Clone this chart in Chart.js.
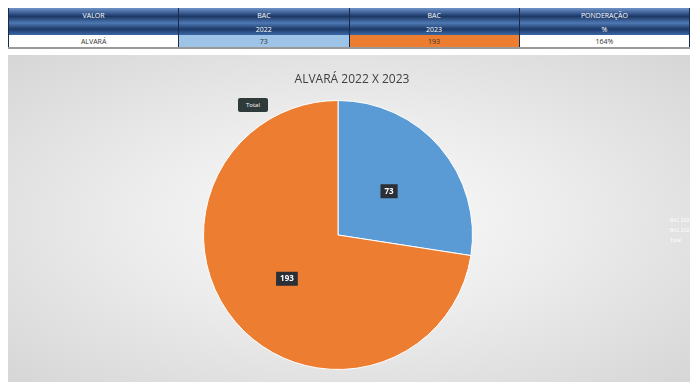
<!DOCTYPE html>
<html>
<head>
<meta charset="utf-8">
<script src="https://cdn.jsdelivr.net/npm/chart.js@4.4.0/dist/chart.umd.min.js"></script>
<style>
  body { margin: 0; width: 693px; height: 382px; background: #fff; overflow: hidden; font-family: 'Open Sans', sans-serif; }
  .tabela { position: absolute; left: 8px; top: 8px; width: 682px; border-collapse: collapse; table-layout: fixed; }
  .tabela td { font-size: 7px; text-align: center; padding: 0; color: #fff; border-left: 1px solid #1a2c4e; border-right: 1px solid #1a2c4e; }
  .cab td { background: linear-gradient(#6f93c8, #2a4a7e 45%, #1b3561 55%, #4d78b3); height: 15px; }
  .cab2 td { background: linear-gradient(#4f7ab5, #1d3a68 50%, #3b67a5); height: 12px; }
  .dados td { height: 12px; color: #333; border-bottom: 2px solid #999; }
  .pagina { position: absolute; left: 8px; top: 55px; width: 682px; height: 327px;
    background: radial-gradient(ellipse at 50% 50%, #fbfbfb 0%, #ececec 45%, #d6d6d6 100%); }
  .titulo { position: absolute; left: 0; width: 688px; top: 15px; text-align: center; font-size: 12px; color: #404040; }
  .rotulo { position: absolute; left: 230px; top: 43px; background: #2f3a3a; color: #fff; font-size: 6px; padding: 3px 8px; border-radius: 2px; }
  .legenda { position: absolute; left: 662px; top: 160px; font-size: 5px; color: #fff; line-height: 10px; white-space: nowrap; }
</style>
</head>
<body>
<table class="tabela">
  <tr class="cab"><td>VALOR</td><td>BAC</td><td>BAC</td><td>PONDERAÇÃO</td></tr>
  <tr class="cab2"><td></td><td>2022</td><td>2023</td><td>%</td></tr>
  <tr class="dados">
    <td style="background:#fff">ALVARÁ</td>
    <td style="background:#9dc3e6">73</td>
    <td style="background:#ed7d31">193</td>
    <td style="background:#fff">164%</td>
  </tr>
</table>
<div class="pagina">
  <canvas id="chart" width="682" height="327"></canvas>
  <div class="titulo" id="titulo"></div>
  <div class="rotulo">Total</div>
  <div class="legenda">BAC 2022<br>BAC 2023<br>Total</div>
</div>
<script>
const categorias = ['BAC 2022', 'BAC 2023'];
const valores = [73, 193];
const titulo = 'ALVARÁ 2022 X 2023';

document.getElementById('titulo').textContent = titulo;

const rotulosFatia = {
  id: 'rotulosFatia',
  afterDatasetsDraw(chart) {
    const ctx = chart.ctx;
    chart.getDatasetMeta(0).data.forEach((arc, i) => {
      const pos = arc.tooltipPosition();
      const texto = String(valores[i]);
      ctx.save();
      ctx.font = 'bold 8px "Open Sans"';
      const w = ctx.measureText(texto).width + 8;
      ctx.fillStyle = '#2b2f36';
      ctx.fillRect(pos.x - w / 2, pos.y - 7, w, 14);
      ctx.fillStyle = '#fff';
      ctx.textAlign = 'center';
      ctx.textBaseline = 'middle';
      ctx.fillText(texto, pos.x, pos.y);
      ctx.restore();
    });
  }
};

new Chart(document.getElementById('chart').getContext('2d'), {
  type: 'pie',
  data: {
    labels: categorias,
    datasets: [{
      data: valores,
      backgroundColor: ['#5b9bd5', '#ed7d31'],
      borderColor: '#ffffff',
      borderWidth: 1
    }]
  },
  options: {
    responsive: false,
    animation: false,
    layout: { padding: { left: 0, right: 22, top: 45, bottom: 12 } },
    plugins: {
      legend: { display: false },
      tooltip: { enabled: false },
      title: { display: false }
    }
  },
  plugins: [rotulosFatia]
});
</script>
</body>
</html>
